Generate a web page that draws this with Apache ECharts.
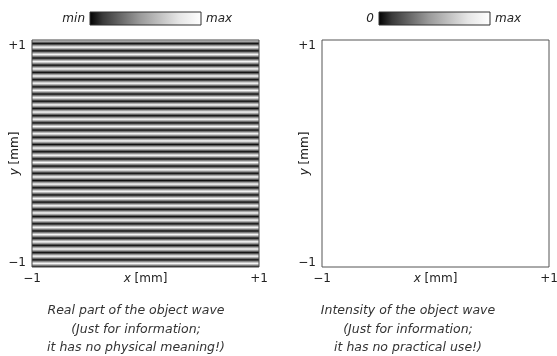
<!DOCTYPE html>
<html>
<head>
<meta charset="utf-8">
<script src="https://cdn.jsdelivr.net/npm/echarts@6/dist/echarts.min.js"></script>
<style>
html, body { margin: 0; padding: 0; background: #fff; }
#main { width: 557px; height: 356px; }
</style>
</head>
<body>
<div id="main"></div>
<script>
// axis ticks and their labels (both panels)
var tickValues = [-1, 1];
var tickLabels = ['\u22121', '+1'];

// grey level of the real part sampled down the y axis, top to bottom (0 = black, 255 = white)
var realPartRows = [
    250, 145, 15, 145, 250, 145, 15, 145,
    250, 145, 15, 145, 250, 145, 15, 145,
    250, 145, 15, 145, 250, 145, 15, 145,
    250, 145, 15, 145, 250, 145, 15, 145,
    250, 145, 15, 145, 250, 145, 15, 145,
    250, 145, 15, 145, 250, 145, 15, 145,
    250, 145, 15, 145, 250, 145, 15, 145,
    250, 145, 15, 145, 250, 145, 15, 145,
    250, 145, 15, 145, 250, 145, 15, 145,
    250, 145, 15, 145, 250, 145, 15, 145,
    250, 145, 15, 145, 250, 145, 15, 145,
    250, 145, 15, 145, 250, 145, 15, 145,
    250, 145, 15, 145, 250, 145, 15, 145,
    250, 145, 15, 145, 250, 145, 15, 145,
    250, 145, 15, 145, 250, 145, 15, 145,
    250, 145, 15, 145, 250, 145, 15
];
// intensity is flat: full brightness everywhere
var intensityRows = [255, 255];

// colour bar labels
var realBarLabels = ['min', 'max'];
var intensityBarLabels = ['0', 'max'];

// captions under the panels
var realCaption = ['Real part of the object wave', '(Just for information;', 'it has no physical meaning!)'];
var intensityCaption = ['Intensity of the object wave', '(Just for information;', 'it has no practical use!)'];

var FONT = '"DejaVu Sans", Verdana, sans-serif';
var TXT = '#222';

var chart = echarts.init(document.getElementById('main'));

function tickLabel(v) {
    var i = tickValues.indexOf(v);
    if (i < 0) return '';
    return v > 0 ? '{t|' + tickLabels[i] + '}' : '{b|' + tickLabels[i] + '}';
}

// one rect over the whole field, shaded by a vertical gradient through the sampled grey levels
function fieldSeries(rows, idx) {
    var n = rows.length;
    var stops = rows.map(function (g, i) {
        return { offset: i / (n - 1), color: 'rgb(' + g + ',' + g + ',' + g + ')' };
    });
    return {
        type: 'custom',
        xAxisIndex: idx,
        yAxisIndex: idx,
        z: -1,
        silent: true,
        clip: true,
        data: [[-1, 1, 1, -1]],
        renderItem: function (params, api) {
            var p0 = api.coord([api.value(0), api.value(1)]);
            var p1 = api.coord([api.value(2), api.value(3)]);
            return {
                type: 'rect',
                shape: { x: p0[0], y: p0[1], width: p1[0] - p0[0], height: p1[1] - p0[1] },
                style: { fill: new echarts.graphic.LinearGradient(0, 0, 0, 1, stops) }
            };
        }
    };
}

function xAxisFor(idx) {
    return {
        gridIndex: idx, type: 'value', min: -1, max: 1, interval: 2,
        axisLine: { show: false }, axisTick: { show: false }, splitLine: { show: false },
        axisLabel: { formatter: tickLabel, margin: 6, color: TXT, fontSize: 12, fontFamily: FONT,
            rich: { t: {}, b: {} } },
        name: '{i|x} [mm]', nameLocation: 'middle', nameGap: 6, nameMoveOverlap: false,
        nameTextStyle: { color: TXT, fontSize: 12, fontFamily: FONT, verticalAlign: 'top',
            rich: { i: { fontStyle: 'italic', fontSize: 12, fontFamily: FONT, color: TXT } } }
    };
}

function yAxisFor(idx) {
    return {
        gridIndex: idx, type: 'value', min: -1, max: 1, interval: 2,
        axisLine: { show: false }, axisTick: { show: false }, splitLine: { show: false },
        axisLabel: { formatter: tickLabel, margin: 6, color: TXT, fontSize: 12, fontFamily: FONT,
            rich: { t: { padding: [11, 0, 0, 0] }, b: { padding: [0, 0, 8, 0] } } },
        name: '{i|y} [mm]', nameLocation: 'middle', nameGap: 11, nameMoveOverlap: false,
        nameTextStyle: { color: TXT, fontSize: 12, fontFamily: FONT,
            rich: { i: { fontStyle: 'italic', fontSize: 12, fontFamily: FONT, color: TXT } } }
    };
}

function colourBar(x, labels) {
    var w = 111, y = 12, h = 13;
    return [{
        type: 'rect', shape: { x: x, y: y, width: w, height: h },
        style: {
            fill: new echarts.graphic.LinearGradient(0, 0, 1, 0, [
                { offset: 0, color: '#000' },
                { offset: 0.12, color: '#3a3a3a' },
                { offset: 0.45, color: '#9a9a9a' },
                { offset: 0.8, color: '#e6e6e6' },
                { offset: 1, color: '#fff' }
            ]),
            stroke: '#333', lineWidth: 1
        }
    }, {
        type: 'text', x: x - 5, y: y + h / 2,
        style: { text: labels[0], align: 'right', verticalAlign: 'middle', fill: TXT,
            font: 'italic 12px ' + FONT }
    }, {
        type: 'text', x: x + w + 5, y: y + h / 2,
        style: { text: labels[1], align: 'left', verticalAlign: 'middle', fill: TXT,
            font: 'italic 12px ' + FONT }
    }];
}

function caption(cx, lines) {
    return {
        type: 'text', x: cx, y: 329.5,
        style: { text: lines.join('\n'), align: 'center', verticalAlign: 'middle', lineHeight: 18.5,
            fill: '#333', font: 'italic 12.5px ' + FONT }
    };
}

var option = {
    backgroundColor: '#fff',
    animation: false,
    grid: [
        { left: 32, top: 40, width: 227, height: 227, show: true, borderColor: '#444', borderWidth: 1,
          backgroundColor: 'transparent', outerBoundsMode: 'none', containLabel: false },
        { left: 322, top: 40, width: 227, height: 227, show: true, borderColor: '#555', borderWidth: 1,
          backgroundColor: 'transparent', outerBoundsMode: 'none', containLabel: false }
    ],
    xAxis: [xAxisFor(0), xAxisFor(1)],
    yAxis: [yAxisFor(0), yAxisFor(1)],
    series: [fieldSeries(realPartRows, 0), fieldSeries(intensityRows, 1)],
    graphic: [].concat(
        colourBar(90, realBarLabels),
        colourBar(379, intensityBarLabels),
        [caption(136, realCaption), caption(408, intensityCaption)]
    )
};

chart.setOption(option);
</script>
</body>
</html>
